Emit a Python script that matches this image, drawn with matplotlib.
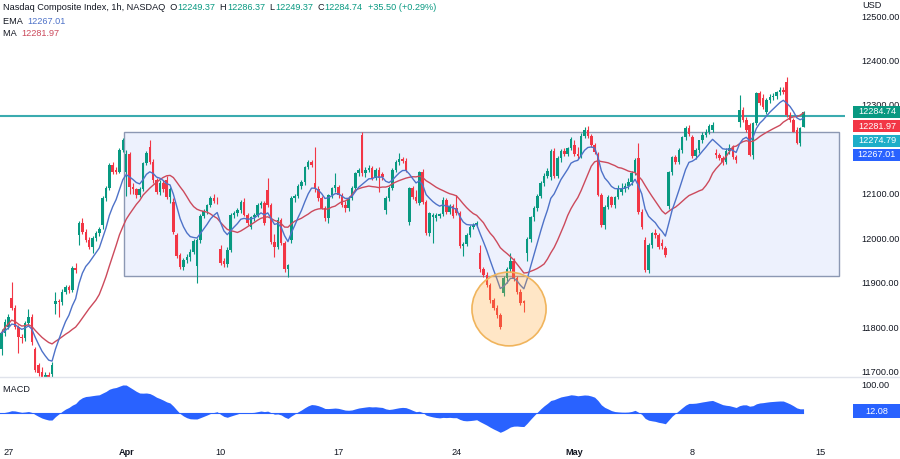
import numpy as np
import pandas as pd
import matplotlib
matplotlib.use("Agg")
import matplotlib.pyplot as plt
from matplotlib.patches import Rectangle, Ellipse

plt.rcParams['font.family'] = ['Liberation Sans', 'DejaVu Sans']

# hourly bars, one line per session (Mar 24 tail ... May 12)
opens = [
    11750, 11787,
    11800, 11866, 11843, 11801, 11778, 11775, 11810,
    11822, 11751, 11715, 11700, 11686, 11692, 11695,
    11852, 11858, 11856, 11880, 11890, 11884, 11933,
    12008, 12035, 12015, 11997, 11981, 12000, 12012,
    12030, 12091, 12113, 12165, 12154, 12150, 12199,
    12150, 12190, 12116, 12110, 12098, 12110, 12170,
    12205, 12172, 12131, 12105, 12125, 12130, 12093,
    12082, 12008, 11963, 11936, 11952, 11958, 11970,
    11938, 11996, 12050, 12062, 12074, 12091, 12085,
    11976, 11948, 11942, 11974, 12053, 12058, 12064,
    12082, 12053, 12026, 12047, 12053, 12075, 12080,
    12109, 12075, 11992, 11980, 12041, 11990, 11930,
    11996, 12091, 12095, 12118, 12126, 12160, 12171,
    12125, 12112, 12091, 12069, 12046, 12098, 12113,
    12115, 12098, 12075, 12068, 12091, 12113, 12147,
    12233, 12147, 12154, 12158, 12135, 12154, 12145,
    12064, 12091, 12113, 12154, 12172, 12178, 12174,
    12037, 12113, 12093, 12080, 12148, 12082, 12012,
    12047, 12045, 12050, 12055, 12086, 12060, 12072,
    12068, 12058, 11982, 11988, 12008, 12026, 12030,
    11968, 11930, 11918, 11895, 11861, 11844, 11828,
    11877, 11910, 11932, 11950, 11911, 11880, 11858,
    11967, 11998, 12047, 12068, 12096, 12124, 12141,
    12138, 12196, 12140, 12180, 12196, 12190, 12202,
    12210, 12190, 12184, 12230, 12244, 12230, 12210,
    12190, 12098, 12030, 12071, 12093, 12075, 12092,
    12105, 12112, 12118, 12127, 12147, 12180, 12060,
    11996, 11929, 11985, 12012, 12008, 11990, 11978,
    12072, 12148, 12182, 12172, 12198, 12227, 12248,
    12228, 12184, 12198, 12220, 12233, 12240, 12244,
    12192, 12188, 12181, 12172, 12196, 12204, 12183,
    12262, 12289, 12266, 12255, 12188, 12260, 12326,
    12316, 12285, 12311, 12318, 12320, 12328, 12334,
    12352, 12278, 12266, 12244, 12215, 12249.37,
]
highs = [
    11795, 11818,
    11830, 11902, 11850, 11806, 11785, 11815, 11840,
    11830, 11756, 11720, 11710, 11700, 11700, 11722,
    11880, 11864, 11885, 11895, 11894, 11938, 11945,
    12040, 12046, 12020, 12002, 12005, 12016, 12025,
    12095, 12118, 12170, 12172, 12160, 12203, 12226,
    12198, 12195, 12125, 12114, 12115, 12172, 12196,
    12222, 12178, 12136, 12130, 12130, 12140, 12115,
    12090, 12012, 11968, 11955, 11965, 11975, 11998,
    12000, 12055, 12066, 12078, 12095, 12100, 12094,
    11985, 11955, 11980, 12058, 12062, 12068, 12086,
    12090, 12058, 12050, 12058, 12080, 12083, 12085,
    12135, 12080, 12010, 12048, 12046, 11995, 11942,
    12095, 12100, 12122, 12130, 12162, 12175, 12176,
    12205, 12118, 12095, 12072, 12100, 12115, 12147,
    12120, 12102, 12085, 12095, 12118, 12150, 12158,
    12240, 12160, 12165, 12162, 12158, 12160, 12150,
    12095, 12118, 12158, 12176, 12192, 12183, 12180,
    12115, 12118, 12108, 12152, 12156, 12086, 12060,
    12058, 12057, 12058, 12092, 12090, 12078, 12078,
    12098, 12062, 11992, 12012, 12030, 12035, 12040,
    11985, 11935, 11925, 11900, 11866, 11850, 11832,
    11915, 11936, 11968, 11955, 11916, 11885, 11862,
    12002, 12050, 12072, 12100, 12128, 12146, 12158,
    12200, 12202, 12185, 12200, 12202, 12206, 12228,
    12222, 12205, 12236, 12250, 12252, 12235, 12215,
    12195, 12102, 12075, 12098, 12096, 12096, 12120,
    12125, 12125, 12135, 12152, 12180, 12215, 12065,
    12002, 11990, 12015, 12020, 12012, 11998, 11982,
    12152, 12185, 12188, 12202, 12230, 12252, 12255,
    12232, 12202, 12222, 12238, 12245, 12258, 12262,
    12200, 12192, 12186, 12202, 12212, 12210, 12188,
    12323, 12295, 12272, 12260, 12262, 12330, 12332,
    12325, 12315, 12325, 12326, 12332, 12340, 12340,
    12363, 12285, 12270, 12250, 12250, 12286.37,
]
lows = [
    11738, 11780,
    11795, 11838, 11796, 11742, 11765, 11770, 11805,
    11760, 11700, 11690, 11680, 11676, 11680, 11688,
    11830, 11822, 11850, 11874, 11878, 11880, 11922,
    11985, 12010, 11992, 11975, 11968, 11995, 12005,
    12022, 12085, 12108, 12145, 12144, 12146, 12195,
    12095, 12100, 12100, 12090, 12094, 12106, 12165,
    12168, 12125, 12100, 12098, 12104, 12088, 12080,
    12010, 11955, 11930, 11928, 11945, 11950, 11965,
    11900, 11990, 12045, 12055, 12070, 12080, 12078,
    11940, 11935, 11935, 11970, 12045, 12050, 12058,
    12050, 12030, 12020, 12040, 12048, 12068, 12030,
    12070, 11988, 11958, 11975, 11985, 11925, 11912,
    11990, 12082, 12090, 12112, 12120, 12155, 12160,
    12105, 12085, 12065, 12040, 12035, 12090, 12105,
    12090, 12070, 12060, 12062, 12086, 12108, 12140,
    12140, 12138, 12148, 12130, 12130, 12105, 12130,
    12055, 12085, 12108, 12148, 12165, 12170, 12150,
    12030, 12088, 12080, 12075, 12078, 12008, 12005,
    11990, 12040, 12045, 12050, 12055, 12055, 12045,
    12052, 11978, 11960, 11982, 12002, 12020, 12025,
    11925, 11912, 11890, 11855, 11838, 11820, 11795,
    11870, 11900, 11925, 11905, 11875, 11850, 11835,
    11950, 11992, 12040, 12062, 12090, 12118, 12135,
    12130, 12135, 12135, 12172, 12185, 12185, 12198,
    12185, 12178, 12180, 12225, 12225, 12205, 12190,
    12095, 12025, 12020, 12065, 12070, 12068, 12088,
    12098, 12105, 12112, 12120, 12142, 12055, 12022,
    11925, 11922, 11978, 12000, 11975, 11975, 11958,
    12065, 12142, 12168, 12166, 12192, 12222, 12230,
    12180, 12178, 12192, 12214, 12228, 12235, 12238,
    12180, 12175, 12165, 12168, 12190, 12178, 12170,
    12250, 12262, 12240, 12185, 12178, 12255, 12300,
    12290, 12280, 12305, 12312, 12314, 12322, 12325,
    12272, 12262, 12238, 12212, 12208, 12249.37,
]
closes = [
    11787, 11812,
    11822, 11843, 11801, 11778, 11775, 11810, 11822,
    11767, 11704, 11697, 11686, 11692, 11688, 11715,
    11858, 11856, 11880, 11890, 11884, 11933, 11928,
    12035, 12015, 11997, 11981, 12000, 12012, 12020,
    12091, 12113, 12165, 12150, 12150, 12199, 12221,
    12190, 12116, 12110, 12098, 12110, 12170, 12192,
    12172, 12131, 12105, 12125, 12110, 12093, 12110,
    12015, 11960, 11936, 11952, 11958, 11970, 11994,
    11996, 12050, 12062, 12074, 12091, 12085, 12083,
    11945, 11942, 11974, 12053, 12058, 12064, 12082,
    12053, 12035, 12047, 12053, 12075, 12080, 12035,
    12075, 11992, 11980, 12041, 11990, 11930, 11940,
    12091, 12095, 12118, 12126, 12160, 12171, 12165,
    12112, 12091, 12069, 12046, 12098, 12113, 12120,
    12098, 12075, 12068, 12091, 12113, 12147, 12154,
    12147, 12154, 12158, 12135, 12154, 12136, 12138,
    12091, 12113, 12154, 12172, 12178, 12174, 12154,
    12113, 12093, 12085, 12148, 12082, 12012, 12057,
    12053, 12053, 12055, 12086, 12060, 12072, 12050,
    12058, 11982, 11988, 12008, 12026, 12030, 12035,
    11930, 11918, 11895, 11861, 11844, 11828, 11800,
    11910, 11932, 11950, 11911, 11880, 11855, 11855,
    11998, 12047, 12068, 12096, 12124, 12141, 12152,
    12196, 12140, 12180, 12196, 12190, 12202, 12224,
    12190, 12184, 12230, 12244, 12230, 12210, 12195,
    12098, 12030, 12071, 12093, 12075, 12092, 12110,
    12112, 12118, 12127, 12147, 12176, 12060, 12026,
    11929, 11985, 12012, 12008, 11980, 11982, 11962,
    12148, 12182, 12172, 12198, 12227, 12248, 12235,
    12184, 12198, 12220, 12233, 12240, 12253, 12255,
    12188, 12181, 12172, 12196, 12204, 12183, 12176,
    12289, 12266, 12244, 12188, 12260, 12326, 12305,
    12295, 12311, 12318, 12320, 12328, 12334, 12330,
    12278, 12266, 12240, 12215, 12249, 12284.74,
]

date_ticks = [2, 37, 65, 100, 135, 170, 205, 243]
date_labels = ['27', 'Apr', '10', '17', '24', 'May', '8', '15']
# 12200 sits behind the price tags, so it gets no label
price_ticks = [11700, 11800, 11900, 12000, 12100, 12300, 12400, 12500]

resistance = 12274.79
range_top, range_bottom = 12239.5, 11915.5
range_start, range_end = 36.4, 248.5
dip_center = (150.6, 11841)

GREEN = '#089981'
RED = '#F23645'
TXT = '#131722'
EMA_C = '#4E72C8'
MA_C = '#CC4A5C'
FS = 6.6

o = np.array(opens, float)
h = np.array(highs, float)
l = np.array(lows, float)
c = np.array(closes, float)
x = np.arange(len(c))

s = pd.Series(c)
ema = s.ewm(span=9, adjust=False).mean()
ma = s.rolling(20, min_periods=1).mean()
macd = s.ewm(span=12, adjust=False).mean() - s.ewm(span=26, adjust=False).mean()

W, H = 900, 459
fig = plt.figure(figsize=(9, 4.59), dpi=100)
ax = fig.add_axes([0, 82 / H, 845 / W, 377 / H])
axm = fig.add_axes([0, 18 / H, 845 / W, 63 / H])

# range box and resistance line
ax.add_patch(Rectangle((range_start, range_bottom), range_end - range_start, range_top - range_bottom,
                       facecolor='#EDF1FD', edgecolor='#8C98B3', lw=1, zorder=1))
ax.axhline(resistance, color='#3AABAF', lw=1.5, zorder=2)

# candles
col = np.where(c >= o, GREEN, RED)
ax.vlines(x, l, h, colors=col, lw=0.8, zorder=3)
ax.bar(x, np.maximum(np.abs(c - o), 2), bottom=np.minimum(o, c), width=0.75, color=col, lw=0, zorder=3)

ax.plot(x, ma, color=MA_C, lw=1, zorder=4)
ax.plot(x, ema, color=EMA_C, lw=1, zorder=4)

ax.add_patch(Ellipse(dip_center, 22, 166, facecolor=(1, 0.66, 0.2, 0.28),
                     edgecolor='#F0B45C', lw=1.2, zorder=5))

ax.set_xlim(-0.45, 250.3)
ax.set_ylim(11688, 12536)
ax.yaxis.tick_right()
ax.set_yticks(price_ticks)
ax.set_yticklabels([f'{v:.2f}' for v in price_ticks])
ax.tick_params(axis='y', length=0, pad=12, labelsize=FS, colors=TXT)
ax.set_xticks([])
for sp in ax.spines.values():
    sp.set_visible(False)

# MACD panel
axm.fill_between(x, 0, macd, color='#2962FF', lw=0)
axm.axhline(0, color='#2962FF', lw=0.8, xmax=x[-1] / 250.3)
axm.set_xlim(-0.45, 250.3)
axm.set_ylim(-97, 121)
axm.yaxis.tick_right()
axm.set_yticks([100])
axm.set_yticklabels(['100.00'])
axm.tick_params(axis='y', length=0, pad=12, labelsize=FS, colors=TXT)
axm.set_xticks(date_ticks)
axm.set_xticklabels(date_labels)
axm.tick_params(axis='x', length=0, pad=5, labelsize=FS, colors=TXT)
for t in axm.get_xticklabels():
    if t.get_text() in ('Apr', 'May'):
        t.set_fontweight('bold')
for sp in axm.spines.values():
    sp.set_visible(False)

fig.add_artist(plt.Line2D([0, 1], [82 / H, 82 / H], color='#E0E3EB', lw=1))

# header texts
def chain(parts, y):
    prev = None
    for txt, color in parts:
        if prev is None:
            prev = fig.text(3 / W, 1 - y / H, txt, color=color, fontsize=FS, va='center', ha='left')
        else:
            prev = ax.annotate(txt, xy=(1, 0), xycoords=prev, va='bottom', ha='left',
                               color=color, fontsize=FS, annotation_clip=False)

chain([('Nasdaq Composite Index, 1h, NASDAQ  O', TXT), ('12249.37', GREEN), ('  H', TXT),
       ('12286.37', GREEN), ('  L', TXT), ('12249.37', GREEN), ('  C', TXT),
       ('12284.74', GREEN), ('  +35.50 (+0.29%)', GREEN)], 7)
chain([('EMA  ', TXT), ('12267.01', EMA_C)], 21)
chain([('MA  ', TXT), ('12281.97', MA_C)], 34)
chain([('MACD  ', TXT), ('12.08', '#2962FF')], 390)

fig.text(862 / W, 1 - 5 / H, 'USD', color=TXT, fontsize=FS, va='center')

# price tags on the right scale
def tag(val, color, ytop, hgt=12):
    fig.add_artist(Rectangle((853 / W, 1 - (ytop + hgt) / H), 47 / W, hgt / H,
                             transform=fig.transFigure, facecolor=color, edgecolor='none', zorder=5))
    fig.text(877 / W, 1 - (ytop + hgt / 2) / H, val, color='white', fontsize=FS,
             ha='center', va='center', zorder=6)

tag(f'{c[-1]:.2f}', GREEN, 106)
tag('12281.97', RED, 120.5)
tag(f'{resistance:.2f}', '#1EAEC8', 134.5)
tag('12267.01', '#2962FF', 148.5)
tag('12.08', '#2962FF', 404, 14)

fig.savefig('out.png', dpi=100, facecolor='white')
